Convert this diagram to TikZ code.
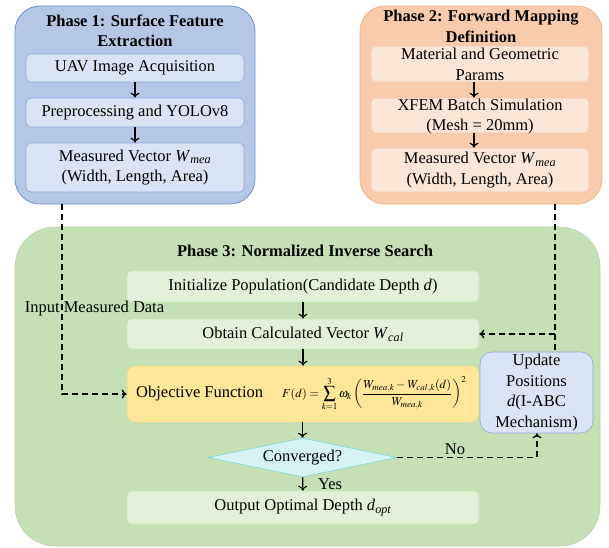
\documentclass[tikz,border=0pt]{standalone}
\usepackage{mathptmx}
\usepackage{fontspec}
\setmainfont{Liberation Serif}
\usetikzlibrary{shapes.geometric,arrows.meta,calc}
\definecolor{pAfill}{HTML}{B4C7E7}
\definecolor{pAdraw}{HTML}{6F8FCF}
\definecolor{pAin}{HTML}{DAE3F3}
\definecolor{pAindraw}{HTML}{8FAADC}
\definecolor{pBfill}{HTML}{F8CBAD}
\definecolor{pBdraw}{HTML}{F4B183}
\definecolor{pBin}{HTML}{FBE5D6}
\definecolor{pCfill}{HTML}{C5E0B4}
\definecolor{pCdraw}{HTML}{B8D4A6}
\definecolor{pCin}{HTML}{E2F0D9}
\definecolor{pCindraw}{HTML}{D0E8C0}
\definecolor{objfill}{HTML}{FFE699}
\definecolor{objdraw}{HTML}{E6D88C}
\definecolor{dmfill}{HTML}{D5F3F3}
\definecolor{dmdraw}{HTML}{7FD8D8}
\tikzset{
  txt/.style={font=\fontsize{16.5}{20.5}\selectfont, align=center, inner sep=0pt},
  ttl/.style={txt, font=\fontsize{16.5}{20.5}\selectfont\bfseries},
  phasebox/.style={rounded corners=25pt, line width=0.8pt},
  inbox/.style={txt, rectangle, rounded corners=5pt, line width=0.6pt, minimum width=218pt},
  pAbox/.style={inbox, fill=pAin, draw=pAindraw},
  pBbox/.style={inbox, fill=pBin, draw=pBfill!90!pBdraw},
  pCbox/.style={inbox, fill=pCin, draw=pCindraw, minimum width=352pt},
  flow/.style={-{To[length=5pt,width=9pt]}, line width=1.1pt, black},
  dflow/.style={-{To[length=5pt,width=9pt]}, line width=1.3pt, black, dash pattern=on 6pt off 4pt},
  dline/.style={line width=1.3pt, black, dash pattern=on 6pt off 4pt},
}
\begin{document}
\begin{tikzpicture}[x=1pt,y=-1pt]
\useasboundingbox (0,0) rectangle (609,547);
% Phase 1
\draw[phasebox, fill=pAfill, draw=pAdraw] (15,6) rectangle (255,204);
\coordinate (p1s) at (62,204);
\node[ttl] (t1) at (135,31) {Phase 1: Surface Feature\\Extraction};
\node[pAbox, minimum height=28pt] (p1a) at (135,68) {UAV Image Acquisition};
\node[pAbox, minimum height=29pt] (p1b) at (135,112.5) {Preprocessing and YOLOv8};
\node[pAbox, minimum height=49pt] (p1c) at (135,167.5) {Measured Vector \textit{W}\textsubscript{\textit{mea}}\\(Width, Length, Area)};
\draw[flow] (p1a) -- (p1b);
\draw[flow] (p1b) -- (p1c);
% Phase 2
\draw[phasebox, fill=pBfill, draw=pBdraw] (360,6) rectangle (602,204);
\coordinate (p2s) at (555,204);
\node[ttl] (t2) at (481,26.5) {Phase 2: Forward Mapping\\Definition};
\node[pBbox, minimum height=36pt] (p2a) at (480,64) {};
\node[txt] (p2at) at (480,64.5) {Material and Geometric\\Params};
\node[pBbox, minimum height=35pt] (p2b) at (480,115.5) {};
\node[txt] (p2bt) at (480,116.5) {XFEM Batch Simulation\\(Mesh = 20mm)};
\node[pBbox, minimum height=44pt] (p2c) at (480,170) {Measured Vector \textit{W}\textsubscript{\textit{mea}}\\(Width, Length, Area)};
\draw[flow] ($(p2a.south)+(-6,0)$) -- ($(p2b.north)+(-6,0)$);
\draw[flow] ($(p2b.south)+(-6,0)$) -- ($(p2c.north)+(-6,0)$);
% Phase 3
\draw[rounded corners=40pt, fill=pCfill, draw=pCdraw, line width=0.6pt] (15,227) rectangle (600,546);
\node[ttl] (t3) at (305,251) {Phase 3: Normalized Inverse Search};
\node[pCbox, minimum height=31pt] (init) at (303,286.5) {Initialize Population(Candidate Depth \textit{d})};
\node[pCbox, minimum height=30pt] (obt) at (303,334) {Obtain Calculated Vector \textit{W}\textsubscript{\textit{cal}}};
\node[pCbox, minimum height=56pt, fill=objfill, draw=objdraw, rounded corners=8pt] (obj) at (303,394) {};
\node[txt, anchor=west] (objt) at (136,394) {Objective Function};
\node[inner sep=0pt, anchor=west] (form) at (282,394) {\fontsize{12.2}{14}\selectfont $F(d)=\displaystyle\sum_{k=1}^{3}\omega_k\left(\frac{W_{mea,k}-W_{cal,k}(d)}{W_{mea,k}}\right)^{2}$};
\node[diamond, aspect=4.85, fill=dmfill, draw=dmdraw, line width=0.6pt, minimum width=189pt, minimum height=39pt, inner sep=0pt] (conv) at (302.5,457.5) {};
\node[txt] (convt) at (302.5,457.5) {Converged?};
\node[pCbox, minimum height=33pt] (out) at (303,507.5) {Output Optimal Depth \textit{d}\textsubscript{\textit{opt}}};
\node[txt, rectangle, rounded corners=12pt, fill=pAin, draw=pAindraw, line width=0.6pt, minimum width=113pt, minimum height=81pt] (upd) at (536.5,392.5) {Update\\Positions\\\textit{d}(I-ABC\\Mechanism)};
\draw[flow] (init) -- (obt);
\draw[flow] (obt) -- (obj);
\draw[flow] (obj.south -| conv.north) -- (conv.north);
\draw[flow] (conv) -- (out);
% dashed connectors
\node[txt] (inlab) at (94.5,309) {Input Measured Data};
\coordinate (c1) at (62,394);
\draw[dflow] (p1s) -- (c1) -- (obj.west);
\coordinate (c2) at (555,334);
\draw[dline] (p2s) -- (upd.north -| p2s);
\draw[dflow] (c2) -- (obt.east);
\coordinate (c3) at (537,457.5);
\draw[dflow] (conv.east) -- (c3) -- (c3 |- upd.south);
\node[txt] (nolab) at (455,449) {No};
\node[txt] (yeslab) at (330,484) {Yes};
\end{tikzpicture}
\end{document}
